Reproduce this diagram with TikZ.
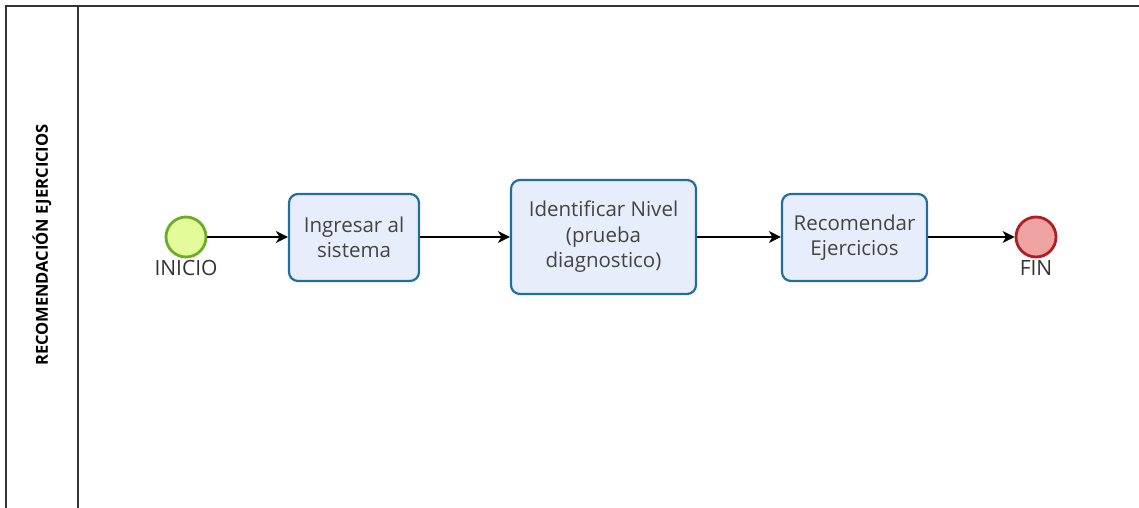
\documentclass[tikz,border=0pt]{standalone}
\usepackage{fontspec}
\setmainfont{Open Sans}
\usetikzlibrary{arrows.meta}
\definecolor{lanegray}{HTML}{333333}
\definecolor{taskfill}{HTML}{E8EDFC}
\definecolor{taskdraw}{HTML}{1F6E9E}
\definecolor{startfill}{HTML}{E4FB9A}
\definecolor{startdraw}{HTML}{6AAE27}
\definecolor{endfill}{HTML}{EFA3A3}
\definecolor{enddraw}{HTML}{AE1E22}
\definecolor{tasktext}{HTML}{444444}
\tikzset{
  lane/.style={draw=lanegray, line width=1.8pt},
  taskbox/.style={draw=taskdraw, fill=taskfill, line width=2.2pt, rounded corners=9pt,
    align=center, text=tasktext, inner sep=0pt,
    font=\fontsize{20.5}{25.5}\selectfont},
  startev/.style={circle, draw=startdraw, fill=startfill, line width=2.8pt,
    minimum size=40pt, inner sep=0pt},
  endev/.style={circle, draw=enddraw, fill=endfill, line width=2.8pt,
    minimum size=40pt, inner sep=0pt},
  evlabel/.style={text=lanegray, font=\fontsize{21}{24}\selectfont, inner sep=0pt},
  flow/.style={draw=black, line width=1.2pt, -{Stealth[length=12pt,width=12pt,inset=3.5pt]}}
}
\begin{document}
\begin{tikzpicture}[x=1pt,y=-1pt]
\useasboundingbox (0,0) rectangle (1139,508);
% pool / lane frame
\draw[lane] (6,508) -- (6,6) -- (1139,6);
\draw[lane] (78,6) -- (78,508);
\node[rotate=90, font=\bfseries\fontsize{16.5}{18}\selectfont, text=black, inner sep=0pt]
  (lanetitle) at (42,245) {RECOMENDACIÓN EJERCICIOS};
% events
\node[startev] (inicio) at (186,237) {};
\node[evlabel] (inicioL) at (186,268) {INICIO};
\node[endev] (fin) at (1036,237) {};
\node[evlabel] (finL) at (1036,268) {FIN};
% tasks
\node[taskbox, minimum width=130pt, minimum height=87pt] (t1) at (354,237.5)
  {Ingresar al\\sistema};
\node[taskbox, minimum width=185pt, minimum height=114pt] (t2) at (603.5,237)
  {Identificar Nivel\\(prueba\\diagnostico)};
\node[taskbox, minimum width=145pt, minimum height=87pt] (t3) at (854.5,237.5)
  {Recomendar\\Ejercicios};
% sequence flows
\draw[flow] (inicio.east) -- (t1.west |- inicio.east);
\draw[flow] (t1.east |- inicio.east) -- (t2.west |- inicio.east);
\draw[flow] (t2.east |- inicio.east) -- (t3.west |- inicio.east);
\draw[flow] (t3.east |- fin.west) -- (fin.west);
\end{tikzpicture}
\end{document}
